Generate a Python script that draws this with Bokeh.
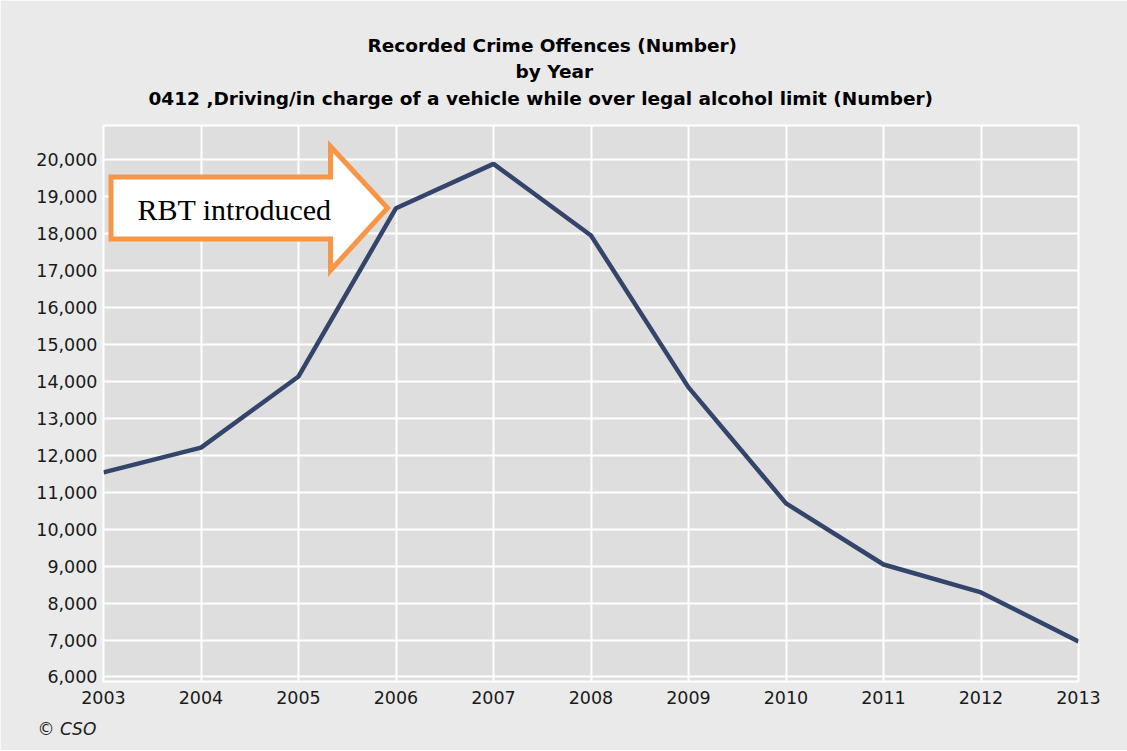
from bokeh.plotting import figure
from bokeh.models import Label, FixedTicker, NumeralTickFormatter, Range1d, Title
from bokeh.embed import file_html
from bokeh.resources import INLINE

# ---- data ----
years = [2003, 2004, 2005, 2006, 2007, 2008, 2009, 2010, 2011, 2012, 2013]
offences = [11540, 12210, 14135, 18690, 19890, 17950, 13840, 10700, 9045, 8290, 6960]
y_ticks = list(range(6000, 21000, 1000))
title_lines = [
    "Recorded Crime Offences (Number)",
    "by Year",
    "0412 ,Driving/in charge of a vehicle while over legal alcohol limit (Number)",
]
annotation_text = "RBT introduced"
source_text = "\u00a9 CSO"

W, H = 1127, 750
BG = "#EAEAEA"

# annotation arrow outline (data coords)
arrow_x = [2003.077, 2005.328, 2005.328, 2005.913, 2005.328, 2005.328, 2003.077]
arrow_y = [19535, 19535, 20361, 18696, 17004, 17857, 17857]

p = figure(
    width=W, height=H,
    x_range=Range1d(2003, 2013), y_range=Range1d(5878, 20929),
    output_backend="svg", toolbar_location=None,
    min_border_left=103, min_border_right=W - 1078, min_border_top=125,
    min_border_bottom=H - 681,
)
p.background_fill_color = "#DEDEDE"
p.border_fill_color = BG
p.outline_line_color = "white"
p.outline_line_width = 2

for g in (p.xgrid, p.ygrid):
    g.grid_line_color = "white"
    g.grid_line_width = 2

p.xaxis.ticker = FixedTicker(ticks=years)
p.yaxis.ticker = FixedTicker(ticks=y_ticks)
p.yaxis.formatter = NumeralTickFormatter(format="0,0")
p.xgrid.ticker = FixedTicker(ticks=years)
p.ygrid.ticker = FixedTicker(ticks=y_ticks)

for ax in (p.xaxis, p.yaxis):
    ax.axis_line_color = None
    ax.major_tick_line_color = None
    ax.minor_tick_line_color = None
    ax.major_tick_out = 0
    ax.major_tick_in = 0
    ax.major_label_text_font = "DejaVu Sans"
    ax.major_label_text_font_size = "17.5px"
    ax.major_label_text_color = "#1a1a1a"
p.yaxis.major_label_standoff = 6
p.xaxis.major_label_standoff = 9

p.line(years, offences, line_color="#33456B", line_width=4.5)

# arrow annotation
p.patch(arrow_x, arrow_y, fill_color="white", line_color="#F79646", line_width=5, line_join="miter")
p.add_layout(Label(x=131, y=472, x_units="screen", y_units="screen", text=annotation_text,
                   text_font="Liberation Serif", text_font_size="30px", text_color="black",
                   text_align="center", text_baseline="middle"))

# spacer between frame and the title block
p.add_layout(Title(text=" ", text_font_size="2px", standoff=13), "above")

# titles (stacked above the frame; first added sits nearest the frame)
title_offsets = [264, 412, 45]
title_standoff = [0, 7, 0]
for t, off, so in reversed(list(zip(title_lines, title_offsets, title_standoff))):
    p.add_layout(Title(text=t, align="left", offset=off, vertical_align="bottom", text_font="DejaVu Sans",
                       text_font_style="bold", text_font_size="18.5px", text_color="black",
                       standoff=so), "above")

p.add_layout(Title(text=source_text, align="left", offset=-66, vertical_align="bottom",
                   text_font="DejaVu Sans", text_font_style="italic", text_font_size="17px",
                   text_color="#222222", standoff=20), "below")

open("out.html", "w").write(file_html(p, INLINE))
